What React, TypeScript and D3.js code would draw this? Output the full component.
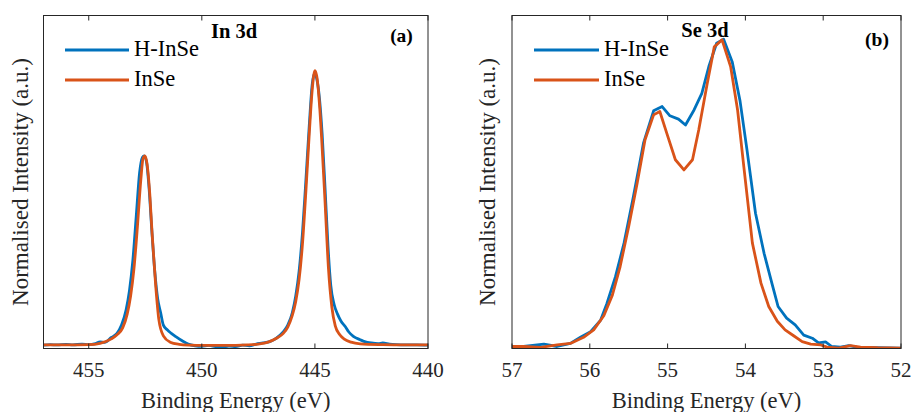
import React from 'react';
import * as d3 from 'd3';

const W = 914;
const H = 412;

const seriesNames = ['H-InSe', 'InSe'];
const seriesColors = ['#0072BD', '#D95319'];

const in3dTicks = [455, 450, 445, 440];
const se3dTicks = [57, 56, 55, 54, 53, 52];

// In 3d : [binding energy (eV), normalised intensity]
const in3d_HInSe: [number, number][] = [
  [457, 0.002], [456.7, 0.004], [456.4, 0.003], [456.0, 0.005], [455.7, 0.003], [455.3, 0.006],
  [455.0, 0.004], [454.7, 0.008], [454.5, 0.014], [454.3, 0.012], [454.0, 0.03], [453.75, 0.045],
  [453.55, 0.075], [453.35, 0.13], [453.2, 0.2], [453.05, 0.31], [452.9, 0.47], [452.75, 0.63],
  [452.62, 0.685], [452.55, 0.69], [452.45, 0.67], [452.33, 0.57], [452.22, 0.43], [452.08, 0.27],
  [451.95, 0.17], [451.82, 0.12], [451.7, 0.075], [451.53, 0.058], [451.35, 0.045], [451.15, 0.033],
  [450.87, 0.018], [450.6, 0.006], [450.3, 0.0], [450.0, -0.002], [449.7, 0.001], [449.4, -0.003],
  [449.1, -0.006], [448.8, -0.001], [448.5, -0.003], [448.2, 0.002], [447.9, 0.0], [447.6, 0.006],
  [447.3, 0.01], [447.0, 0.015], [446.7, 0.028], [446.4, 0.05], [446.2, 0.075], [446.0, 0.12],
  [445.85, 0.18], [445.7, 0.27], [445.55, 0.41], [445.4, 0.6], [445.25, 0.8], [445.12, 0.95],
  [445.02, 0.99], [444.92, 0.97], [444.8, 0.9], [444.68, 0.77], [444.55, 0.57], [444.42, 0.36],
  [444.3, 0.22], [444.15, 0.15], [444.0, 0.115], [443.85, 0.09], [443.66, 0.07], [443.5, 0.05],
  [443.3, 0.034], [443.0, 0.022], [442.8, 0.015], [442.5, 0.01], [442.2, 0.008], [442.0, 0.01],
  [441.7, 0.006], [441.4, 0.004], [441.0, 0.003], [440.5, 0.003], [440, 0.002],
];

const in3d_InSe: [number, number][] = [
  [457, 0.003], [456, 0.003], [455, 0.004], [454.5, 0.009], [454.0, 0.025], [453.75, 0.04],
  [453.5, 0.065], [453.3, 0.115], [453.15, 0.18], [453.0, 0.28], [452.85, 0.43], [452.7, 0.6],
  [452.6, 0.68], [452.52, 0.69], [452.42, 0.66], [452.3, 0.55], [452.2, 0.41], [452.05, 0.23],
  [451.9, 0.095], [451.7, 0.036], [451.4, 0.013], [451.0, 0.005], [450.5, 0.002], [450, 0.001],
  [449, 0.001], [448, 0.003], [447.5, 0.006], [447.1, 0.012], [446.7, 0.027], [446.4, 0.045],
  [446.2, 0.068], [446.0, 0.11], [445.85, 0.16], [445.7, 0.24], [445.55, 0.37], [445.4, 0.56],
  [445.25, 0.77], [445.12, 0.93], [445.0, 1.0], [444.9, 0.97], [444.8, 0.88], [444.7, 0.75],
  [444.55, 0.52], [444.4, 0.28], [444.25, 0.14], [444.1, 0.072], [443.9, 0.04], [443.7, 0.024],
  [443.4, 0.013], [443, 0.007], [442, 0.004], [441, 0.003], [440, 0.003],
];

// Se 3d
const se3d_HInSe: [number, number][] = [
  [57.0, -0.006], [56.85, 0.0], [56.59, 0.008], [56.42, 0.0], [56.25, 0.01], [56.12, 0.03],
  [55.99, 0.048], [55.86, 0.086], [55.78, 0.14], [55.67, 0.227], [55.56, 0.336], [55.44, 0.487],
  [55.31, 0.661], [55.18, 0.766], [55.07, 0.78], [54.97, 0.75], [54.86, 0.739], [54.77, 0.72],
  [54.66, 0.769], [54.56, 0.823], [54.47, 0.91], [54.37, 0.986], [54.28, 0.999], [54.17, 0.926],
  [54.07, 0.8], [53.98, 0.64], [53.87, 0.433], [53.76, 0.303], [53.66, 0.206], [53.58, 0.13],
  [53.47, 0.092], [53.36, 0.07], [53.25, 0.037], [53.14, 0.027], [53.06, 0.012], [52.97, 0.015],
  [52.89, 0.0], [52.78, -0.002], [52.67, 0.003], [52.57, -0.002], [52.3, -0.004], [52.0, -0.005],
];

const se3d_InSe: [number, number][] = [
  [57.0, 0.0], [56.85, 0.0], [56.63, -0.003], [56.42, 0.005], [56.25, 0.01], [56.08, 0.03],
  [55.95, 0.054], [55.82, 0.1], [55.71, 0.167], [55.61, 0.26], [55.5, 0.39], [55.39, 0.532],
  [55.29, 0.672], [55.18, 0.753], [55.1, 0.764], [55.01, 0.693], [54.9, 0.607], [54.79, 0.574],
  [54.68, 0.607], [54.6, 0.704], [54.49, 0.856], [54.4, 0.974], [54.3, 0.997], [54.19, 0.91],
  [54.1, 0.768], [54.02, 0.584], [53.91, 0.336], [53.8, 0.206], [53.7, 0.13], [53.59, 0.082],
  [53.49, 0.054], [53.38, 0.035], [53.27, 0.016], [53.16, 0.008], [53.03, 0.005], [52.95, -0.002],
  [52.8, -0.005], [52.65, 0.003], [52.52, -0.002], [52.3, -0.004], [52.0, -0.005],
];

const FONT = '"Liberation Serif", "Times New Roman", serif';
const AXIS = '#262626';

type PanelProps = {
  x0: number; x1: number; y0: number; y1: number;
  xDomain: [number, number];
  yDomain: [number, number];
  ticks: number[];
  data: [number, number][][];
  title: string; titleX: number; titleY: number;
  tag: string; tagX: number; tagY: number;
  legX0: number; legX1: number; legTextX: number;
  yLabelX: number;
  curve: d3.CurveFactory;
};

function Panel(p: PanelProps) {
  const x = d3.scaleLinear().domain(p.xDomain).range([p.x0, p.x1]);
  const y = d3.scaleLinear().domain(p.yDomain).range([p.y1, p.y0]);
  const line = d3.line<[number, number]>().x(d => x(d[0])).y(d => y(d[1])).curve(p.curve);
  const clipId = 'clip' + Math.round(p.x0);
  const legY = [50, 80];
  const legTextY = [55.5, 86];
  return (
    <g>
      <defs>
        <clipPath id={clipId}>
          <rect x={p.x0} y={p.y0} width={p.x1 - p.x0} height={p.y1 - p.y0} />
        </clipPath>
      </defs>
      <g clipPath={`url(#${clipId})`}>
        {p.data.map((s, i) => (
          <path key={i} d={line(s) || ''} fill="none" stroke={seriesColors[i]} strokeWidth={2.8}
            strokeLinejoin="round" strokeLinecap="round" />
        ))}
      </g>
      <rect x={p.x0} y={p.y0} width={p.x1 - p.x0} height={p.y1 - p.y0} fill="none" stroke={AXIS} strokeWidth={1} />
      {p.ticks.map(t => (
        <g key={t}>
          <line x1={x(t)} x2={x(t)} y1={p.y1} y2={p.y1 - 5} stroke={AXIS} strokeWidth={1} />
          <line x1={x(t)} x2={x(t)} y1={p.y0} y2={p.y0 + 5} stroke={AXIS} strokeWidth={1} />
          <text x={x(t)} y={377} textAnchor="middle" fontFamily={FONT} fontSize={21} fill={AXIS}>{t}</text>
        </g>
      ))}
      <text x={(p.x0 + p.x1) / 2} y={408} textAnchor="middle" fontFamily={FONT} fontSize={22.5} fill={AXIS}>
        Binding Energy (eV)
      </text>
      <text transform={`translate(${p.yLabelX},${(p.y0 + p.y1) / 2}) rotate(-90)`} textAnchor="middle"
        fontFamily={FONT} fontSize={23} fill={AXIS}>
        Normalised Intensity (a.u.)
      </text>
      <text x={p.titleX} y={p.titleY} textAnchor="middle" fontFamily={FONT} fontSize={20.5} fontWeight="bold" fill="#000">
        {p.title}
      </text>
      <text x={p.tagX} y={p.tagY} textAnchor="middle" fontFamily={FONT} fontSize={19.5} fontWeight="bold" fill="#000">
        {p.tag}
      </text>
      {seriesNames.map((n, i) => (
        <g key={n}>
          <line x1={p.legX0} x2={p.legX1} y1={legY[i]} y2={legY[i]} stroke={seriesColors[i]} strokeWidth={2.8} />
          <text x={p.legTextX} y={legTextY[i]} fontFamily={FONT} fontSize={22.5} fill="#000">{n}</text>
        </g>
      ))}
    </g>
  );
}

export default function App() {
  return (
    <svg width={W} height={H} viewBox={`0 0 ${W} ${H}`}
      style={{ position: 'fixed', left: 0, top: 0, background: '#fff' }}>
      <rect x={0} y={0} width={W} height={H} fill="#fff" />
      <Panel x0={43.5} x1={428} y0={15.5} y1={348.5} xDomain={[457, 440]} yDomain={[-0.01, 1.2]}
        ticks={in3dTicks} data={[in3d_HInSe, in3d_InSe]}
        title="In 3d" titleX={234} titleY={37.5} tag="(a)" tagX={401.5} tagY={42}
        legX0={65} legX1={129} legTextX={134} yLabelX={28} curve={d3.curveMonotoneX} />
      <Panel x0={512} x1={901} y0={15.5} y1={348.5} xDomain={[57, 52]} yDomain={[-0.0065, 1.076]}
        ticks={se3dTicks} data={[se3d_HInSe, se3d_InSe]}
        title="Se 3d" titleX={705} titleY={36.5} tag="(b)" tagX={877} tagY={45.5}
        legX0={534} legX1={599} legTextX={604} yLabelX={494.5} curve={d3.curveLinear} />
    </svg>
  );
}
